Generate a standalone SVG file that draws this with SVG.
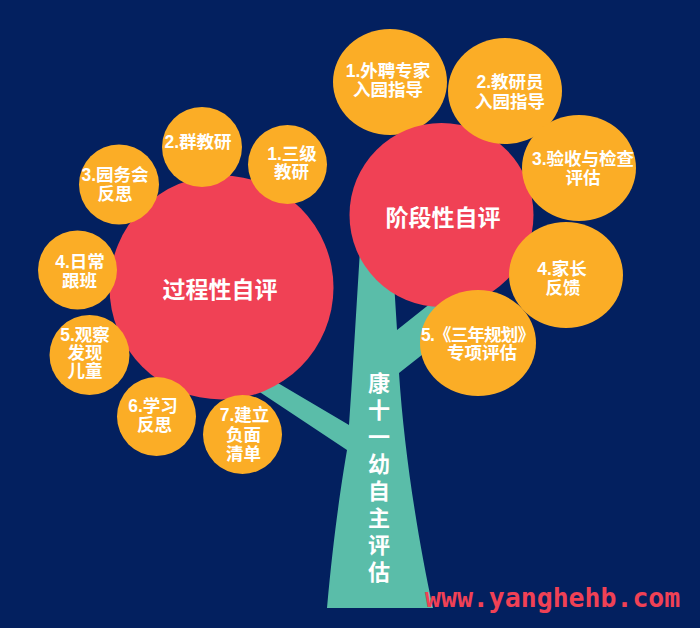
<svg xmlns="http://www.w3.org/2000/svg" width="700" height="628" viewBox="0 0 700 628">
<style>
.bg{fill:#03205f}
.trunk{fill:#5abda9}
.big{fill:#f04155}
.leaf{fill:#fbad26}
.t{font-family:"Liberation Sans","Noto Sans CJK SC",sans-serif;font-weight:bold;fill:#ffffff;text-anchor:middle}
.s{font-size:17.5px}
.b{font-size:23px}
.v{font-size:22px}
.url{font-family:"DejaVu Sans Mono","Liberation Mono",monospace;font-weight:bold;font-size:26.5px;fill:#f04155}
</style>
<rect class="bg" x="0" y="0" width="700" height="628"/>
<g id="connectors">
<path id="trunk" class="trunk" d="M360 250 L392 250 L397 330 L436 299 L446 336 L399 373 C404 450 418 540 433 608 L327 608 C334 530 342 480 347 450 L252 387 L266 376 L349 425 L352 380 Z"/>
</g>
<g id="trunk-label">
<text class="t v" x="379" y="391">康</text>
<text class="t v" x="379" y="418">十</text>
<text class="t v" x="379" y="445">一</text>
<text class="t v" x="379" y="472">幼</text>
<text class="t v" x="379" y="499">自</text>
<text class="t v" x="379" y="526">主</text>
<text class="t v" x="379" y="553">评</text>
<text class="t v" x="379" y="580">估</text>
</g>
<g id="r1"><ellipse class="leaf" cx="390" cy="82" rx="57" ry="53"/><text class="t s" x="388" y="77">1.外聘专家</text><text class="t s" x="388" y="96">入园指导</text></g>
<g id="stage"><circle class="big" cx="441.5" cy="215" r="92"/><text class="t b" x="443" y="226">阶段性自评</text></g>
<g id="r2"><ellipse class="leaf" cx="505" cy="91" rx="57" ry="53"/><text class="t s" x="510" y="88">2.教研员</text><text class="t s" x="510" y="108">入园指导</text></g>
<g id="r3"><ellipse class="leaf" cx="579" cy="168" rx="57" ry="53"/><text class="t s" x="583" y="165">3.验收与检查</text><text class="t s" x="583" y="184">评估</text></g>
<g id="r4"><ellipse class="leaf" cx="566" cy="275" rx="57" ry="53"/><text class="t s" x="562" y="275">4.家长</text><text class="t s" x="563" y="294">反馈</text></g>
<g id="r5"><ellipse class="leaf" cx="478" cy="343" rx="58" ry="53"/><text class="t s" x="478" y="341" textLength="114" lengthAdjust="spacing">5.《三年规划》</text><text class="t s" x="482" y="359">专项评估</text></g>
<g id="process"><circle class="big" cx="221.5" cy="287.5" r="112"/><text class="t b" x="220" y="298">过程性自评</text></g>
<g id="l1"><circle class="leaf" cx="287.5" cy="164.5" r="39.5"/><text class="t s" x="292" y="160">1.三级</text><text class="t s" x="291.5" y="178">教研</text></g>
<g id="l2"><circle class="leaf" cx="202" cy="147" r="40"/><text class="t s" x="198" y="148">2.群教研</text></g>
<g id="l3"><circle class="leaf" cx="119" cy="184.5" r="40"/><text class="t s" x="115" y="181">3.园务会</text><text class="t s" x="115" y="200">反思</text></g>
<g id="l4"><circle class="leaf" cx="77.5" cy="270" r="39.5"/><text class="t s" x="80" y="268">4.日常</text><text class="t s" x="79.5" y="287">跟班</text></g>
<g id="l5"><circle class="leaf" cx="89.5" cy="355" r="40"/><text class="t s" x="85" y="341">5.观察</text><text class="t s" x="85" y="359">发现</text><text class="t s" x="85" y="377">儿童</text></g>
<g id="l6"><circle class="leaf" cx="156.5" cy="416.5" r="39.5"/><text class="t s" x="153" y="412">6.学习</text><text class="t s" x="154.5" y="431">反思</text></g>
<g id="l7"><circle class="leaf" cx="242.5" cy="434.5" r="39.5"/><text class="t s" x="244.5" y="421">7.建立</text><text class="t s" x="243.5" y="441">负面</text><text class="t s" x="243.5" y="460">清单</text></g>
<text class="url" x="425" y="607">www.yanghehb.com</text>
</svg>
